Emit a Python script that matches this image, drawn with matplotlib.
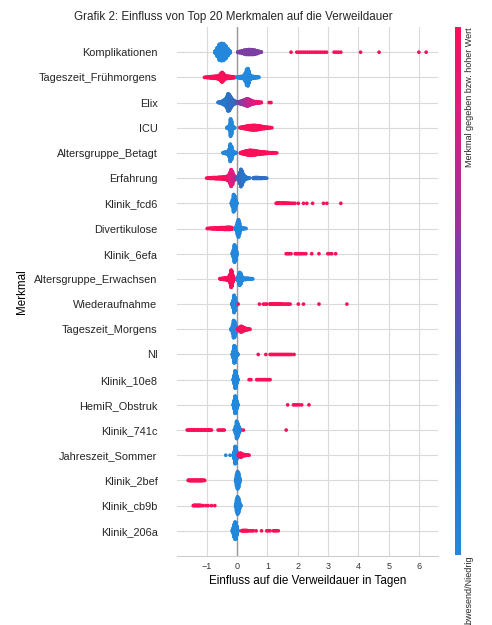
# SHAP-style beeswarm: Einfluss der Top-20 Merkmale auf die Verweildauer
import matplotlib
matplotlib.use('Agg')
import matplotlib.pyplot as plt
from matplotlib.colors import LinearSegmentedColormap
import numpy as np

plt.rcParams['font.family'] = ['Liberation Sans', 'DejaVu Sans']
plt.rcParams['text.color'] = '#262626'

# --- Data ---
# features listed top to bottom
features = [
    "Komplikationen", "Tageszeit_Frühmorgens", "Elix", "ICU", "Altersgruppe_Betagt",
    "Erfahrung", "Klinik_fcd6", "Divertikulose", "Klinik_6efa", "Altersgruppe_Erwachsen",
    "Wiederaufnahme", "Tageszeit_Morgens", "NI", "Klinik_10e8", "HemiR_Obstruk",
    "Klinik_741c", "Jahreszeit_Sommer", "Klinik_2bef", "Klinik_cb9b", "Klinik_206a",
]
# each entry: (SHAP value in days, number of cases, feature value 0=low .. 1=high)
komplikationen = [
    (-0.72, 8, 0), (-0.65, 30, 0), (-0.58, 55, 0), (-0.51, 60, 0), (-0.44, 58, 0),
    (-0.37, 45, 0), (-0.30, 25, 0), (-0.23, 8, 0),
    (0.03, 3, .55), (0.10, 6, .55), (0.17, 10, .55), (0.24, 14, .55), (0.31, 17, .55),
    (0.38, 18, .55), (0.45, 18, .55), (0.52, 17, .55), (0.59, 15, .55), (0.66, 11, .55),
    (0.73, 6, .55), (0.80, 2, .55),
    (1.78, 1, 1), (1.97, 1, 1), (2.04, 1, 1), (2.11, 1, 1), (2.18, 1, 1), (2.25, 1, 1),
    (2.32, 1, 1), (2.39, 1, 1), (2.46, 1, 1), (2.53, 1, 1), (2.60, 1, 1), (2.67, 1, 1),
    (2.74, 1, 1), (2.81, 1, 1), (2.88, 1, 1), (2.95, 1, 1), (3.20, 1, 1), (3.27, 1, 1),
    (3.34, 1, 1), (3.42, 1, 1), (4.07, 1, 1), (4.68, 1, 1), (5.99, 1, 1), (6.23, 1, 1),
]
tageszeit_fruehmorgens = [
    (-1.07, 1, 1), (-1.02, 2, 1), (-0.97, 3, 1), (-0.92, 4, 1), (-0.87, 5, 1), (-0.82, 6, 1),
    (-0.77, 7, 1), (-0.72, 8, 1), (-0.67, 9, 1), (-0.62, 11, 1), (-0.57, 16, 1), (-0.53, 26, 1),
    (-0.49, 34, 1), (-0.45, 26, 1), (-0.41, 16, 1), (-0.37, 10, 1), (-0.33, 9, 1), (-0.29, 8, 1),
    (-0.25, 7, 1), (-0.21, 6, 1), (-0.17, 5, 1), (-0.13, 4, 1), (-0.09, 3, 1), (-0.06, 1, 1),
    (0.00, 2, 0), (0.04, 4, 0), (0.08, 5, 0), (0.12, 6, 0), (0.16, 7, 0), (0.20, 9, 0),
    (0.24, 14, 0), (0.28, 30, 0), (0.32, 55, 0), (0.36, 60, 0), (0.40, 40, 0), (0.44, 16, 0),
    (0.48, 9, 0), (0.52, 7, 0), (0.56, 6, 0), (0.60, 5, 0), (0.64, 4, 0), (0.68, 3, 0), (0.72, 2, 0),
]
elix = [
    (-0.62, 2, .15), (-0.57, 4, .15), (-0.52, 7, .15), (-0.47, 12, .2), (-0.42, 18, .2),
    (-0.37, 26, .2), (-0.33, 40, .2), (-0.29, 60, .2), (-0.25, 55, .25), (-0.21, 40, .25),
    (-0.17, 26, .25), (-0.13, 18, .3), (-0.09, 12, .3), (-0.05, 8, .3), (-0.01, 5, .35),
    (0.03, 5, .5), (0.07, 7, .55), (0.11, 9, .55), (0.15, 11, .6), (0.19, 14, .6), (0.23, 17, .65),
    (0.27, 20, .65), (0.31, 24, .7), (0.35, 26, .7), (0.39, 22, .75), (0.43, 18, .75),
    (0.47, 14, .8), (0.51, 11, .8), (0.55, 9, .85), (0.59, 7, .85), (0.63, 6, .85), (0.67, 5, .9),
    (0.71, 4, .9), (0.75, 3, .9), (0.80, 2, .95), (1.06, 1, 1), (1.12, 1, 1),
]
icu = [
    (-0.33, 3, 0), (-0.30, 5, 0), (-0.27, 8, 0), (-0.24, 20, 0), (-0.21, 60, 0), (-0.18, 45, 0),
    (-0.15, 12, 0), (-0.12, 6, 0), (-0.09, 3, 0), (-0.07, 1, 0),
    (0.10, 2, 1), (0.15, 4, 1), (0.20, 6, 1), (0.25, 8, 1), (0.30, 10, 1), (0.35, 12, 1),
    (0.40, 14, 1), (0.45, 15, 1), (0.50, 16, 1), (0.55, 17, 1), (0.60, 16, 1), (0.65, 15, 1),
    (0.70, 14, 1), (0.75, 12, 1), (0.80, 10, 1), (0.85, 8, 1), (0.90, 7, 1), (0.95, 5, 1),
    (1.00, 4, 1), (1.05, 3, 1), (1.10, 2, 1), (1.15, 1, 1),
]
altersgruppe_betagt = [
    (-0.46, 2, 0), (-0.42, 4, 0), (-0.38, 6, 0), (-0.34, 8, 0), (-0.30, 12, 0), (-0.26, 25, 0),
    (-0.22, 60, 0), (-0.18, 45, 0), (-0.14, 15, 0), (-0.10, 7, 0), (-0.06, 4, 0), (-0.02, 2, 0),
    (0.12, 3, 1), (0.17, 6, 1), (0.22, 9, 1), (0.27, 12, 1), (0.32, 14, 1), (0.37, 16, 1),
    (0.42, 18, 1), (0.47, 18, 1), (0.52, 17, 1), (0.57, 16, 1), (0.62, 14, 1), (0.67, 12, 1),
    (0.72, 10, 1), (0.77, 9, 1), (0.82, 8, 1), (0.87, 7, 1), (0.92, 6, 1), (0.97, 5, 1),
    (1.02, 4, 1), (1.07, 3, 1), (1.12, 3, 1), (1.17, 2, 1), (1.22, 2, 1), (1.27, 1, 1), (1.31, 1, 1),
]
erfahrung = [
    (-1.00, 1, 1), (-0.95, 2, 1), (-0.90, 3, 1), (-0.85, 3, 1), (-0.80, 4, 1), (-0.75, 4, 1),
    (-0.70, 5, 1), (-0.65, 5, 1), (-0.60, 6, 1), (-0.55, 6, 1), (-0.50, 7, 1), (-0.45, 8, 1),
    (-0.40, 9, 1), (-0.35, 11, 1), (-0.31, 15, .95), (-0.27, 22, .9), (-0.23, 38, .9),
    (-0.19, 58, .85), (-0.15, 45, .85), (-0.11, 22, .8), (-0.07, 9, .75), (-0.03, 4, .7),
    (0.01, 6, .35), (0.05, 16, .3), (0.09, 38, .3), (0.13, 60, .25), (0.17, 48, .25),
    (0.21, 28, .2), (0.25, 14, .2), (0.29, 8, .2), (0.33, 5, .2), (0.37, 3, .2), (0.41, 2, .2),
    (0.54, 3, .25), (0.58, 4, .25), (0.62, 4, .25), (0.66, 4, .25), (0.70, 4, .25), (0.74, 3, .25),
    (0.78, 3, .25), (0.82, 3, .25), (0.86, 2, .25), (0.90, 2, .25), (0.94, 1, .25), (0.98, 1, .25),
]
klinik_fcd6 = [
    (-0.18, 5, 0), (-0.145, 25, 0), (-0.11, 60, 0), (-0.075, 50, 0), (-0.04, 20, 0), (-0.005, 4, 0),
    (1.29, 1, 1), (1.32, 2, 1), (1.36, 2, 1), (1.40, 2, 1), (1.44, 2, 1), (1.48, 2, 1),
    (1.52, 2, 1), (1.56, 2, 1), (1.60, 2, 1), (1.64, 1, 1), (1.68, 2, 1), (1.72, 1, 1),
    (1.76, 1, 1), (1.81, 1, 1), (1.86, 1, 1), (1.91, 1, 1), (2.02, 1, 1), (2.19, 1, 1),
    (2.30, 1, 1), (2.49, 1, 1), (2.85, 1, 1), (2.96, 1, 1), (3.42, 1, 1),
]
divertikulose = [
    (-0.98, 1, 1), (-0.94, 1, 1), (-0.90, 2, 1), (-0.86, 2, 1), (-0.82, 3, 1), (-0.78, 3, 1),
    (-0.74, 4, 1), (-0.70, 4, 1), (-0.66, 5, 1), (-0.62, 5, 1), (-0.58, 5, 1), (-0.54, 6, 1),
    (-0.50, 6, 1), (-0.46, 6, 1), (-0.42, 7, 1), (-0.38, 7, 1), (-0.34, 8, 1), (-0.30, 8, 1),
    (-0.26, 8, 1), (-0.22, 8, 1), (-0.18, 6, 1), (-0.15, 3, 1),
    (-0.07, 3, 0), (-0.04, 8, 0), (-0.01, 20, 0), (0.02, 45, 0), (0.05, 60, 0), (0.08, 40, 0),
    (0.11, 15, 0), (0.14, 8, 0), (0.18, 5, 0), (0.22, 3, 0), (0.26, 2, 0), (0.30, 1, 0),
]
klinik_6efa = [
    (-0.15, 5, 0), (-0.116, 25, 0), (-0.082, 60, 0), (-0.048, 50, 0), (-0.014, 15, 0),
    (1.62, 1, 1), (1.67, 1, 1), (1.72, 1, 1), (1.78, 1, 1), (1.92, 1, 1), (1.97, 1, 1),
    (2.02, 1, 1), (2.08, 1, 1), (2.13, 1, 1), (2.20, 1, 1), (2.27, 1, 1), (2.46, 1, 1),
    (2.70, 1, 1), (2.99, 1, 1), (3.05, 1, 1), (3.12, 1, 1), (3.25, 1, 1),
]
altersgruppe_erwachsen = [
    (-0.56, 2, 1), (-0.52, 3, 1), (-0.48, 4, 1), (-0.44, 5, 1), (-0.40, 6, 1), (-0.36, 7, 1),
    (-0.32, 9, 1), (-0.28, 12, 1), (-0.25, 18, 1), (-0.22, 32, 1), (-0.19, 60, 1), (-0.16, 50, 1),
    (-0.13, 22, 1), (-0.10, 8, 1), (-0.07, 3, 1),
    (0.00, 4, 0), (0.03, 14, 0), (0.06, 32, 0), (0.09, 45, 0), (0.12, 38, 0), (0.15, 20, 0),
    (0.18, 10, 0), (0.21, 7, 0), (0.25, 5, 0), (0.29, 5, 0), (0.33, 4, 0), (0.37, 4, 0),
    (0.41, 3, 0), (0.45, 3, 0), (0.49, 2, 0), (0.52, 1, 0),
]
wiederaufnahme = [
    (-0.17, 5, 0), (-0.132, 25, 0), (-0.094, 60, 0), (-0.056, 45, 0), (-0.018, 12, 0),
    (0.04, 1, 1), (0.74, 1, 1), (0.87, 1, 1), (0.93, 1, 1), (0.98, 1, 1), (1.09, 2, 1),
    (1.13, 2, 1), (1.17, 2, 1), (1.21, 2, 1), (1.25, 2, 1), (1.30, 2, 1), (1.35, 2, 1),
    (1.40, 2, 1), (1.45, 2, 1), (1.50, 1, 1), (1.55, 1, 1), (1.60, 1, 1), (1.65, 1, 1),
    (1.70, 1, 1), (1.75, 1, 1), (2.02, 1, 1), (2.19, 1, 1), (2.70, 1, 1), (3.62, 1, 1),
]
tageszeit_morgens = [
    (-0.20, 3, 0), (-0.17, 10, 0), (-0.14, 30, 0), (-0.11, 60, 0), (-0.08, 55, 0), (-0.05, 30, 0),
    (-0.02, 10, 0), (0.00, 3, 0),
    (0.02, 3, 1), (0.05, 7, 1), (0.08, 12, 1), (0.11, 17, 1), (0.14, 20, 1), (0.17, 18, 1),
    (0.20, 14, 1), (0.24, 10, 1), (0.28, 7, 1), (0.32, 5, 1), (0.36, 3, 1), (0.40, 2, 1), (0.43, 1, 1),
]
ni = [
    (-0.15, 5, 0), (-0.12, 25, 0), (-0.09, 60, 0), (-0.06, 55, 0), (-0.03, 25, 0), (0.00, 10, 0),
    (0.03, 3, 0),
    (0.70, 1, 1), (0.95, 1, 1), (1.09, 1, 1), (1.14, 1, 1), (1.19, 1, 1), (1.24, 1, 1),
    (1.29, 1, 1), (1.34, 1, 1), (1.39, 1, 1), (1.44, 1, 1), (1.49, 1, 1), (1.54, 1, 1),
    (1.59, 1, 1), (1.64, 1, 1), (1.69, 1, 1), (1.74, 1, 1), (1.80, 1, 1), (1.88, 1, 1),
]
klinik_10e8 = [
    (-0.12, 5, 0), (-0.09, 30, 0), (-0.06, 60, 0), (-0.03, 55, 0), (0.00, 25, 0), (0.03, 5, 0),
    (0.40, 1, 1), (0.46, 1, 1), (0.65, 1, 1), (0.70, 1, 1), (0.75, 1, 1), (0.80, 1, 1),
    (0.85, 1, 1), (0.90, 1, 1), (0.95, 1, 1), (1.00, 1, 1), (1.05, 1, 1), (1.09, 1, 1),
]
hemir_obstruk = [
    (-0.12, 5, 0), (-0.09, 30, 0), (-0.06, 60, 0), (-0.03, 55, 0), (0.00, 25, 0), (0.03, 5, 0),
    (1.67, 1, 1), (1.86, 1, 1), (1.92, 1, 1), (1.98, 1, 1), (2.05, 1, 1), (2.13, 1, 1), (2.37, 1, 1),
]
klinik_741c = [
    (-1.64, 1, 1), (-1.60, 1, 1), (-1.56, 2, 1), (-1.52, 1, 1), (-1.48, 2, 1), (-1.44, 1, 1),
    (-1.40, 2, 1), (-1.36, 1, 1), (-1.32, 1, 1), (-1.28, 2, 1), (-1.24, 1, 1), (-1.20, 1, 1),
    (-1.16, 2, 1), (-1.12, 1, 1), (-1.08, 1, 1), (-1.04, 2, 1), (-1.00, 1, 1), (-0.96, 1, 1),
    (-0.92, 2, 1), (-0.88, 1, 1), (-0.84, 1, 1), (-0.62, 1, 1), (-0.57, 1, 1), (-0.52, 1, 1),
    (-0.47, 1, 1), (-0.42, 1, 1),
    (-0.08, 4, 0), (-0.045, 25, 0), (-0.01, 60, 0), (0.025, 45, 0), (0.06, 25, 0),
    (0.095, 10, 0), (0.13, 3, 0),
    (0.21, 1, 1), (1.62, 1, 1),
]
jahreszeit_sommer = [
    (-0.37, 1, 0), (-0.23, 1, 0), (-0.12, 5, 0), (-0.09, 25, 0), (-0.06, 60, 0), (-0.03, 55, 0),
    (0.00, 25, 0), (0.03, 5, 0),
    (0.05, 5, 1), (0.08, 10, 1), (0.11, 14, 1), (0.14, 13, 1), (0.17, 9, 1), (0.20, 6, 1),
    (0.24, 4, 1), (0.28, 3, 1), (0.32, 2, 1), (0.36, 2, 1), (0.40, 1, 1),
]
klinik_2bef = [
    (-1.60, 2, 1), (-1.55, 3, 1), (-1.50, 3, 1), (-1.45, 3, 1), (-1.40, 3, 1), (-1.35, 3, 1),
    (-1.30, 3, 1), (-1.25, 3, 1), (-1.20, 3, 1), (-1.15, 3, 1), (-1.10, 2, 1), (-1.06, 1, 1),
    (-0.04, 10, 0), (-0.01, 40, 0), (0.02, 60, 0), (0.05, 50, 0), (0.08, 20, 0), (0.10, 5, 0),
]
klinik_cb9b = [
    (-1.44, 1, 1), (-1.41, 2, 1), (-1.37, 2, 1), (-1.33, 2, 1), (-1.29, 2, 1), (-1.25, 2, 1),
    (-1.21, 2, 1), (-1.16, 1, 1), (-1.11, 1, 1), (-1.02, 1, 1), (-0.95, 1, 1), (-0.84, 1, 1),
    (-0.73, 1, 1),
    (-0.04, 10, 0), (-0.01, 40, 0), (0.02, 60, 0), (0.05, 50, 0), (0.08, 25, 0), (0.12, 5, 0),
]
klinik_206a = [
    (-0.15, 5, 0), (-0.12, 20, 0), (-0.09, 45, 0), (-0.06, 60, 0), (-0.03, 55, 0), (0.00, 30, 0),
    (0.03, 5, 0),
    (0.15, 1, 1), (0.18, 2, 1), (0.21, 2, 1), (0.24, 2, 1), (0.27, 2, 1), (0.30, 2, 1),
    (0.33, 2, 1), (0.36, 1, 1), (0.40, 1, 1), (0.45, 1, 1), (0.50, 1, 1), (0.54, 1, 1),
    (0.63, 1, 1), (0.81, 1, 1), (0.98, 1, 1), (1.03, 1, 1), (1.09, 1, 1), (1.20, 1, 1),
    (1.25, 1, 1), (1.30, 1, 1), (1.36, 1, 1),
]

rows = [
    komplikationen, tageszeit_fruehmorgens, elix, icu, altersgruppe_betagt,
    erfahrung, klinik_fcd6, divertikulose, klinik_6efa, altersgruppe_erwachsen,
    wiederaufnahme, tageszeit_morgens, ni, klinik_10e8, hemir_obstruk,
    klinik_741c, jahreszeit_sommer, klinik_2bef, klinik_cb9b, klinik_206a,
]

# blue -> purple -> red, like the shap colour bar
cmap = LinearSegmentedColormap.from_list("red_blue", [
    (0.0, "#2388dc"), (0.2, "#2677cc"), (0.4, "#4a58ae"), (0.55, "#7b3fa3"),
    (0.7, "#b22a93"), (0.85, "#e41a7d"), (1.0, "#fb0f58"),
])


# --- beeswarm offsets (same layering as shap.summary_plot) ---
def swarm_offsets(vals, nbins=100, row_height=0.4):
    quant = np.round(nbins * (vals - vals.min()) / (vals.max() - vals.min() + 1e-8))
    inds = np.argsort(quant, kind="stable")
    ys = np.zeros(len(vals))
    layer, last_bin = 0, -1
    for ind in inds:
        if quant[ind] != last_bin:
            layer = 0
        ys[ind] = np.ceil(layer / 2) * ((layer % 2) * 2 - 1)
        layer += 1
        last_bin = quant[ind]
    ys *= 0.9 * (row_height / np.max(ys + 1))
    return ys


fig = plt.figure(figsize=(4.92, 6.25), dpi=100)
ax = fig.add_axes([177 / 492, 1 - 556 / 625, 261 / 492, 529 / 625])

n = len(features)
for i, entries in enumerate(rows):
    pos = n - 1 - i
    arr = np.array(entries, dtype=float)
    counts = arr[:, 1].astype(int)
    vals = np.repeat(arr[:, 0], counts)
    levels = np.repeat(arr[:, 2], counts)
    ys = swarm_offsets(vals)
    ax.scatter(vals, pos + ys, c=levels, cmap=cmap, vmin=0, vmax=1,
               s=7, linewidth=0, zorder=3)

ax.axvline(0, color="#999999", lw=1.0, zorder=2)
ax.set_xlim(-1.975, 6.62)
ax.set_ylim(-1, n)
ax.set_xticks(range(-1, 7))
ax.set_yticks(range(n))
ax.set_yticklabels(features[::-1])
ax.grid(True, color="#dadada", lw=0.8)
ax.set_axisbelow(True)
for side in ("left", "top", "right"):
    ax.spines[side].set_visible(False)
ax.spines["bottom"].set_color("#cccccc")
ax.tick_params(axis="y", length=0, pad=14, labelsize=7.9, labelcolor="#262626")
ax.tick_params(axis="x", length=0, pad=4, labelsize=6.5, labelcolor="#333333")
ax.set_xlabel("Einfluss auf die Verweildauer in Tagen", fontsize=8.4, labelpad=3)
ax.set_ylabel("Merkmal", fontsize=8.4)
ax.yaxis.set_label_coords(-0.572, 0.5)

fig.text(233 / 492, 1 - 17 / 625, "Grafik 2: Einfluss von Top 20 Merkmalen auf die Verweildauer",
         ha="center", va="center", fontsize=8.4)

# --- colour bar ---
cax = fig.add_axes([455 / 492, 1 - 555 / 625, 6 / 492, 528 / 625])
sm = plt.cm.ScalarMappable(cmap=cmap, norm=plt.Normalize(0, 1))
cb = fig.colorbar(sm, cax=cax, ticks=[0, 1])
cb.outline.set_visible(False)
cb.ax.tick_params(length=0, pad=3)
cb.ax.set_yticklabels(["Abwesend/Niedrig", "Merkmal gegeben bzw. hoher Wert"],
                      rotation=90, va="top", fontsize=6.5, color="#262626")

fig.savefig("out.png", dpi=100)
plt.close(fig)
